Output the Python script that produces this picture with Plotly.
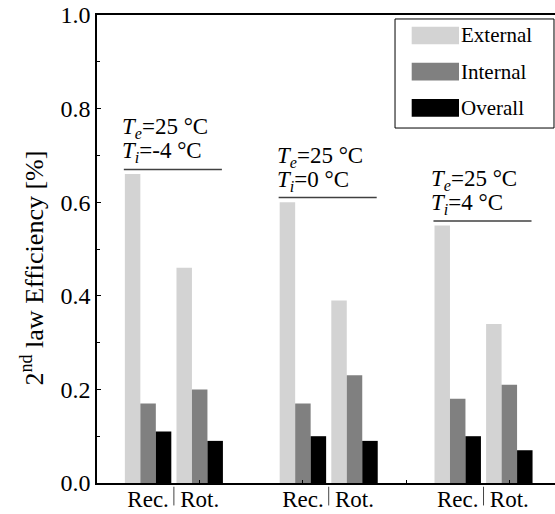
import plotly.graph_objects as go

# ---- data ----
positions = [0, 1, 3, 4, 6, 7]
sub_labels = ["Rec.", "Rot.", "Rec.", "Rot.", "Rec.", "Rot."]
series_names = ["External", "Internal", "Overall"]
external = [0.66, 0.46, 0.60, 0.39, 0.55, 0.34]
internal = [0.17, 0.20, 0.17, 0.23, 0.18, 0.21]
overall = [0.11, 0.09, 0.10, 0.09, 0.10, 0.07]
group_centers = [0.5, 3.5, 6.5]
te_labels = ["25", "25", "25"]
ti_labels = ["-4", "0", "4"]
y_ticks = [0.0, 0.2, 0.4, 0.6, 0.8, 1.0]

colors = ["#d3d3d3", "#808080", "#000000"]
FONT = "Liberation Serif"

fig = go.Figure()
for name, vals, c in zip(series_names, [external, internal, overall], colors):
    fig.add_trace(go.Bar(x=positions, y=vals, name=name, marker_color=c,
                         marker_line_width=0, showlegend=False))

fig.update_layout(
    width=555, height=514,
    margin=dict(l=97, r=0, t=15, b=31, autoexpand=False),
    plot_bgcolor="white", paper_bgcolor="white",
    barmode="group", bargap=0.1, bargroupgap=0,
    font=dict(family=FONT, size=22, color="black"),
)
fig.update_xaxes(
    range=[-0.99, 7.885], tickvals=positions, ticktext=sub_labels,
    ticks="", showline=True, linecolor="black", linewidth=1.5, mirror=True,
    showgrid=False, zeroline=False, automargin=False, ticklabelstandoff=-5,
    minor=dict(tickvals=[-1, 1, 3, 5, 7], ticks="inside", ticklen=3, tickcolor="black"),
    tickfont=dict(family=FONT, size=23, color="black"),
)
fig.update_yaxes(
    range=[0, 1.0], tickvals=y_ticks, ticktext=[f"{v:.1f}" for v in y_ticks],
    ticks="inside", ticklen=4, tickcolor="black",
    showline=True, linecolor="black", linewidth=1.5, mirror=False,
    showgrid=False, zeroline=False, automargin=False,
    minor=dict(dtick=0.1, ticks="inside", ticklen=3, tickcolor="black"),
    tickfont=dict(family=FONT, size=24, color="black"),
)

# y-axis title
fig.add_annotation(text="2<sup>nd</sup> law Efficiency [%]", xref="paper", yref="paper",
                   x=-0.14, y=0.46, textangle=-90, showarrow=False,
                   font=dict(family=FONT, size=26, color="black"),
                   xanchor="center", yanchor="middle")

# condition annotations with lines
for i, gc in enumerate(group_centers):
    top = max(external[2 * i], external[2 * i + 1])
    ly = top + 0.01
    fig.add_shape(type="line", xref="x", yref="y", x0=gc - 0.97, x1=gc + 0.93,
                  y0=ly, y1=ly, line=dict(color="#404040", width=1.5))
    fig.add_annotation(text="<i>T</i><sub><i>i</i></sub>=" + ti_labels[i] + " °C",
                       x=gc - 0.97, y=ly, xref="x", yref="y", xanchor="left",
                       yanchor="bottom", yshift=1, xshift=-4, showarrow=False,
                       font=dict(family=FONT, size=23, color="black"))
    fig.add_annotation(text="<i>T</i><sub><i>e</i></sub>=" + te_labels[i] + " °C",
                       x=gc - 0.97, y=ly, xref="x", yref="y", xanchor="left",
                       yanchor="bottom", yshift=25, xshift=-4, showarrow=False,
                       font=dict(family=FONT, size=23, color="black"))
    # separator between Rec. and Rot. labels
    fig.add_shape(type="line", xref="x", yref="paper", x0=gc, x1=gc,
                  y0=-0.008, y1=-0.048, line=dict(color="#444444", width=1))

# custom legend
fig.add_shape(type="rect", xref="paper", yref="paper", x0=0.6507, x1=0.9978,
              y0=0.7585, y1=0.9915, line=dict(color="black", width=1), fillcolor="white")
legend_y = [(0.9374, 0.975), (0.8600, 0.8981), (0.7827, 0.8205)]
for name, c, (y0, y1) in zip(series_names, colors, legend_y):
    fig.add_shape(type="rect", xref="paper", yref="paper", x0=0.6871, x1=0.7904,
                  y0=y0, y1=y1, line=dict(width=0), fillcolor=c)
    fig.add_annotation(text=name, xref="paper", yref="paper", x=0.7963, y=(y0 + y1) / 2,
                       xanchor="left", yanchor="middle", xshift=-3, showarrow=False,
                       font=dict(family=FONT, size=21, color="black"))

fig.write_html("out.html")
